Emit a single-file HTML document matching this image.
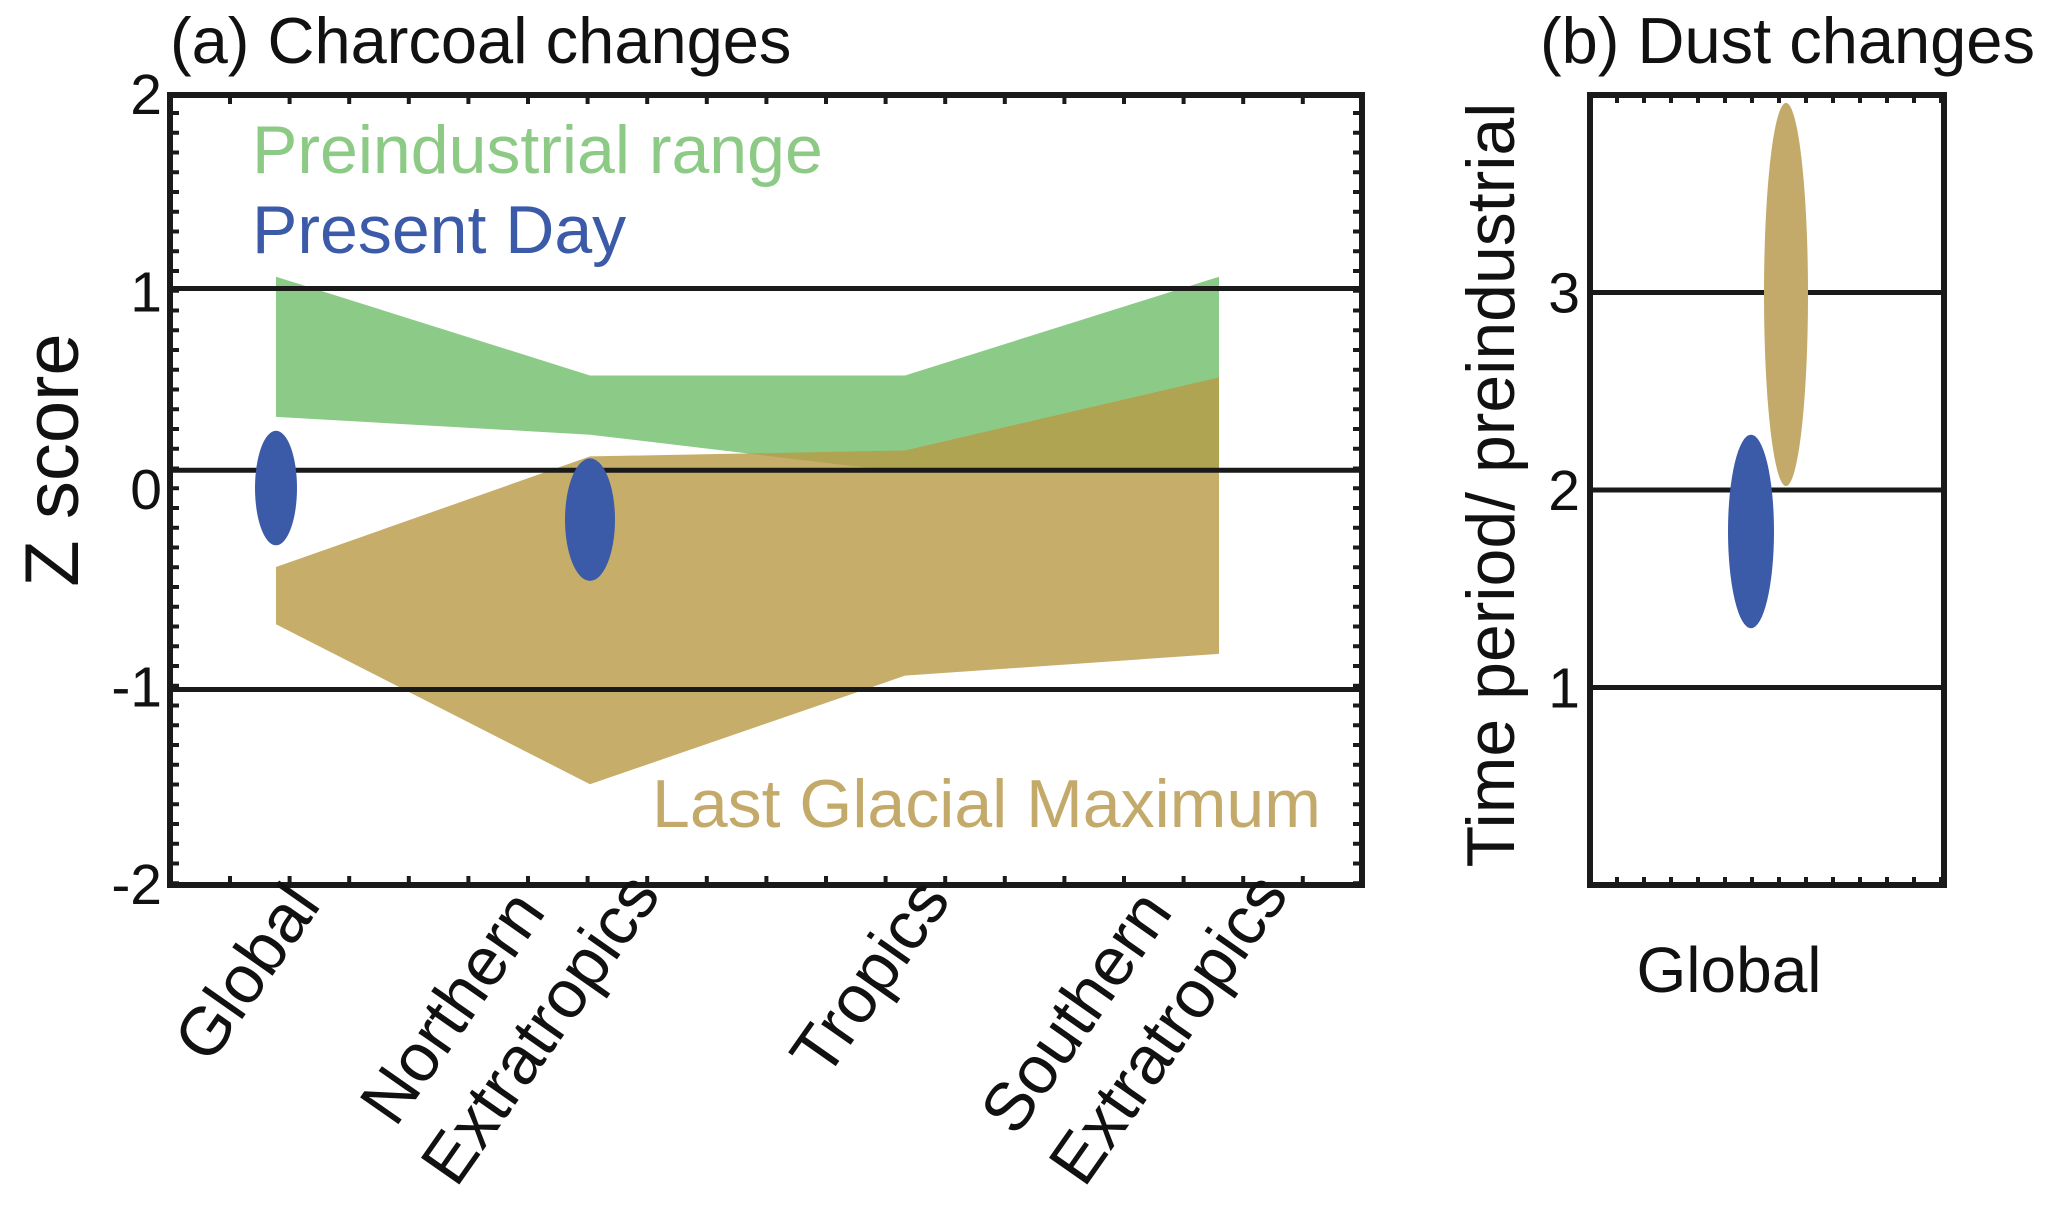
<!DOCTYPE html>
<html><head><meta charset="utf-8"><style>
html,body{margin:0;padding:0;background:#fff;}
svg{display:block;font-family:"Liberation Sans",sans-serif;}
</style></head><body>
<svg id="chart" width="2067" height="1213" viewBox="0 0 2067 1213">
<g id="pa"></g>
<g id="pb"></g>
</svg>
<script>
const categories = ["Global", "Northern Extratropics", "Tropics", "Southern Extratropics"];
const preTop = [1.08, 0.58, 0.58, 1.08];
const preBottom = [0.37, 0.28, 0.09, 0.09];
const lgmTop = [-0.39, 0.17, 0.20, 0.57];
const lgmBottom = [-0.68, -1.49, -0.94, -0.83];
const refLines = [1.02, 0.10, -1.01];
const yTicks = [2, 1, 0, -1, -2];
const pdCenter = [0.01, -0.15];
const pdHalf = [0.29, 0.31];
const dustTicks = [3, 2, 1];
const dustLines = [3, 2, 1];
const dustPD = [1.79, 0.49];
const dustLGM = [2.99, 0.97];

const NS = "http://www.w3.org/2000/svg";
function mk(parent, tag, attrs, text) {
  const e = document.createElementNS(NS, tag);
  for (const k in attrs) e.setAttribute(k, attrs[k]);
  if (text !== undefined) e.textContent = text;
  parent.appendChild(e);
  return e;
}
const aL = 170, aR = 1362, aT = 95, aB = 885;
const catX = [276, 590, 905, 1219];
const ya = v => aT + (2 - v) / 4 * (aB - aT);
const pa = document.getElementById('pa');

let pts = catX.map((x, i) => x + ',' + ya(preTop[i])).concat(catX.slice().reverse().map((x, j) => x + ',' + ya(preBottom[3 - j])));
let p = mk(pa, 'polygon', {points: pts.join(' '), fill: '#7fc57a', 'fill-opacity': 0.9});


pts = catX.map((x, i) => x + ',' + ya(lgmTop[i])).concat(catX.slice().reverse().map((x, j) => x + ',' + ya(lgmBottom[3 - j])));
p = mk(pa, 'polygon', {points: pts.join(' '), fill: '#b89a45', 'fill-opacity': 0.8});



refLines.forEach(v => {
  const l = mk(pa, 'line', {x1: aL, x2: aR, y1: ya(v), y2: ya(v), stroke: '#1a1a1a', 'stroke-width': 5});
  
  
});
pdCenter.forEach((c, i) => {
  const rx = i === 0 ? 21 : 25;
  const e = mk(pa, 'ellipse', {cx: catX[i], cy: ya(c), rx: rx, ry: pdHalf[i] * (aB - aT) / 4, fill: '#3b5ba8'});
  
  
});
for (let y = aT + 18; y < aB; y += 19.75) {
  mk(pa, 'line', {x1: aL, x2: aL + 9, y1: y, y2: y, stroke: '#1a1a1a', 'stroke-width': 4});
  mk(pa, 'line', {x1: aR - 9, x2: aR, y1: y, y2: y, stroke: '#1a1a1a', 'stroke-width': 4});
}
for (let x = aL + 60; x < aR; x += 59.6) {
  mk(pa, 'line', {x1: x, x2: x, y1: aT, y2: aT + 9, stroke: '#1a1a1a', 'stroke-width': 4});
  mk(pa, 'line', {x1: x, x2: x, y1: aB - 9, y2: aB, stroke: '#1a1a1a', 'stroke-width': 4});
}
let fr = mk(pa, 'rect', {x: aL, y: aT, width: aR - aL, height: aB - aT, fill: 'none', stroke: '#1a1a1a', 'stroke-width': 6});


yTicks.forEach(v => {
  const t = mk(pa, 'text', {x: 162, y: ya(v) + 19, 'text-anchor': 'end', 'font-size': 57, fill: '#111'}, String(v));
  
  
});
let t = mk(pa, 'text', {x: 170, y: 63, 'font-size': 65, fill: '#111'}, '(a) Charcoal changes');
 
t = mk(pa, 'text', {x: 0, y: 0, 'font-size': 76, fill: '#111', 'text-anchor': 'middle', transform: 'translate(78,460) rotate(-90)'}, 'Z score');
 
t = mk(pa, 'text', {x: 252, y: 173, 'font-size': 68, fill: '#8cca86'}, 'Preindustrial range');
 
t = mk(pa, 'text', {x: 252, y: 253, 'font-size': 68, fill: '#3b5ba8'}, 'Present Day');
 
t = mk(pa, 'text', {x: 652, y: 827, 'font-size': 68, fill: '#c4aa6a'}, 'Last Glacial Maximum');
 
const catLines = [["Global"], ["Northern", "Extratropics"], ["Tropics"], ["Southern", "Extratropics"]];
const catAnchors = [[[322, 905]], [[547, 912], [662, 895]], [[952, 900]], [[1174, 912], [1290, 895]]];
catLines.forEach((lines, i) => {
  lines.forEach((s, j) => {
    const [x, y] = catAnchors[i][j];
    const e = mk(pa, 'text', {x: 0, y: 0, 'font-size': 68, fill: '#111', 'text-anchor': 'end', transform: `translate(${x},${y}) rotate(-55)`}, s);
    
    
  });
});

const bL = 1590, bR = 1944, bT = 95, bB = 885;
const yb = v => bB - v / 4 * (bB - bT);
const pb = document.getElementById('pb');
dustLines.forEach(v => {
  const l = mk(pb, 'line', {x1: bL, x2: bR, y1: yb(v), y2: yb(v), stroke: '#1a1a1a', 'stroke-width': 5});
  
  
});
let e = mk(pb, 'ellipse', {cx: 1751, cy: yb(dustPD[0]), rx: 23, ry: dustPD[1] * (bB - bT) / 4, fill: '#3b5ba8'});
 
e = mk(pb, 'ellipse', {cx: 1786, cy: yb(dustLGM[0]), rx: 22, ry: dustLGM[1] * (bB - bT) / 4, fill: '#c4aa6a'});
 
for (let x = bL + 27; x < bR; x += 27) {
  mk(pb, 'line', {x1: x, x2: x, y1: bT, y2: bT + 8, stroke: '#1a1a1a', 'stroke-width': 4});
  mk(pb, 'line', {x1: x, x2: x, y1: bB - 8, y2: bB, stroke: '#1a1a1a', 'stroke-width': 4});
}
fr = mk(pb, 'rect', {x: bL, y: bT, width: bR - bL, height: bB - bT, fill: 'none', stroke: '#1a1a1a', 'stroke-width': 6});
 
dustTicks.forEach(v => {
  const t2 = mk(pb, 'text', {x: 1580, y: yb(v) + 20, 'text-anchor': 'end', 'font-size': 57, fill: '#111'}, String(v));
  
  
});
t = mk(pb, 'text', {x: 1540, y: 63, 'font-size': 65, fill: '#111'}, '(b) Dust changes');
 
t = mk(pb, 'text', {x: 0, y: 0, 'font-size': 68, fill: '#111', 'text-anchor': 'middle', transform: 'translate(1514,485) rotate(-90)'}, 'Time period/ preindustrial');
 
t = mk(pb, 'text', {x: 1729, y: 992, 'font-size': 64, fill: '#111', 'text-anchor': 'middle'}, 'Global');
 
</script>
</body></html>
